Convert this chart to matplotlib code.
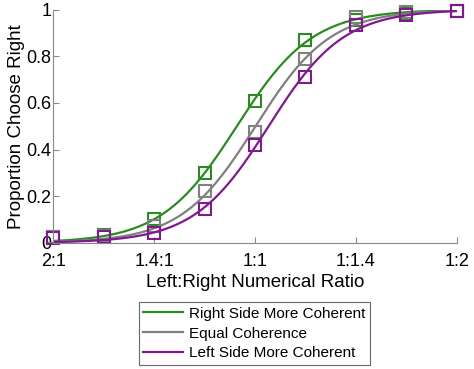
import numpy as np
import matplotlib
matplotlib.use('Agg')
import matplotlib.pyplot as plt

# ratio steps, evenly spaced in log ratio (2:1 ... 1:2)
x_pos = [0, 1, 2, 3, 4, 5, 6, 7, 8]
tick_pos = [0, 2, 4, 6, 8]
tick_labels = ['2:1', '1.4:1', '1:1', '1:1.4', '1:2']

right_more = [0.025, 0.035, 0.10, 0.30, 0.61, 0.87, 0.955, 0.985, 0.995]
equal_coh = [0.025, 0.03, 0.07, 0.22, 0.475, 0.79, 0.97, 0.99, 0.995]
left_more = [0.02, 0.025, 0.042, 0.146, 0.418, 0.71, 0.936, 0.976, 0.995]

names = ['Right Side More Coherent', 'Equal Coherence', 'Left Side More Coherent']
colors = ['#2b8a22', '#808080', '#7e1a8e']

plt.rcParams['font.family'] = ['Liberation Sans', 'DejaVu Sans']


def fit_logistic(x, y):
    # crude least squares grid search for a logistic fit
    x = np.asarray(x, float)
    y = np.asarray(y, float)
    best = None
    for mu in np.linspace(2, 6, 401):
        for s in np.linspace(0.3, 2.5, 221):
            p = 1.0 / (1.0 + np.exp(-(x - mu) / s))
            err = np.sum((p - y) ** 2)
            if best is None or err < best[0]:
                best = (err, mu, s)
    return best[1], best[2]


fig = plt.figure(figsize=(4.74, 3.69), dpi=100)
ax = fig.add_axes([0.112, 0.342, 0.852, 0.632])

xx = np.linspace(0, 8, 300)
for ys, c, n in zip([right_more, equal_coh, left_more], colors, names):
    mu, s = fit_logistic(x_pos, ys)
    ax.plot(xx, 1.0 / (1.0 + np.exp(-(xx - mu) / s)), color=c, lw=1.6, label=n)
    ax.plot(x_pos, ys, 's', mfc='none', mec=c, mew=1.5, ms=9, clip_on=False)

ax.set_xlim(0, 8)
ax.set_ylim(0, 1)
ax.set_xticks(tick_pos)
ax.set_xticklabels(tick_labels)
ax.set_yticks([0, 0.2, 0.4, 0.6, 0.8, 1])
ax.set_yticklabels(['0', '0.2', '0.4', '0.6', '0.8', '1'])
ax.tick_params(direction='in', length=4, color='#888888', labelsize=13)
ax.tick_params(axis='x', pad=7.5)
ax.tick_params(axis='y', pad=1)
for side in ['top', 'right']:
    ax.spines[side].set_visible(False)
for side in ['left', 'bottom']:
    ax.spines[side].set_color('#888888')
ax.set_xlabel('Left:Right Numerical Ratio', fontsize=13.5, labelpad=3)
ax.set_ylabel('Proportion Choose Right', fontsize=13.5, labelpad=1)

leg = fig.legend(loc='upper center', bbox_to_anchor=(0.537, 0.181), fontsize=11,
                 frameon=True, fancybox=False, handlelength=2.6, borderpad=0.3,
                 labelspacing=0.38, handletextpad=0.4, borderaxespad=0)
leg.get_frame().set_edgecolor('#444444')
leg.get_frame().set_linewidth(0.8)

plt.savefig('out.png', dpi=100)
